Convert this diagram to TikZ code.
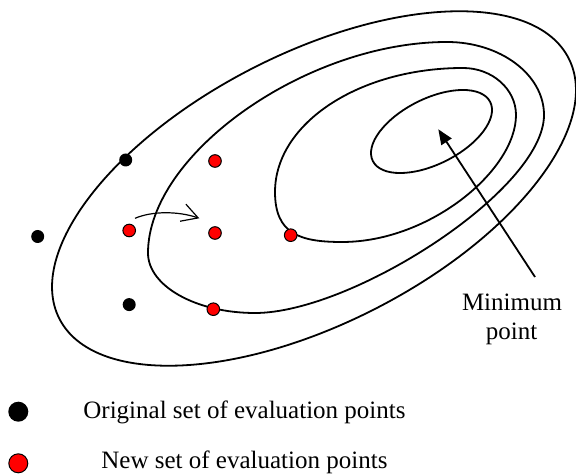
\documentclass[tikz,border=0pt]{standalone}
\usepackage{fontspec}
\setmainfont{Liberation Serif}
\usetikzlibrary{arrows.meta}
\begin{document}
\begin{tikzpicture}[x=0.5pt,y=-0.5pt,
  contour/.style={line width=0.9pt},
  olddot/.style={circle,fill=black,inner sep=0pt,minimum size=6.5pt},
  newdot/.style={circle,fill=red,draw=black,line width=0.5pt,inner sep=0pt,minimum size=6.3pt},
  lbl/.style={font=\fontsize{12.5}{14.5}\selectfont,inner sep=0pt}]
\useasboundingbox (0,0) rectangle (576,474);

% outer contour
\draw[contour,rotate around={27.1:(314,188.5)}] (314,188.5) ellipse [x radius=143pt, y radius=67.5pt];
% second contour
\draw[contour] (447,42) .. controls (500.5,42) and (544,74.7) .. (544,115)
  .. controls (544,190) and (352,313) .. (255,313)
  .. controls (196,313) and (148,286) .. (148,253)
  .. controls (148,153.8) and (306.5,42) .. (447,42) -- cycle;
% third contour
\draw[contour] (463,68) .. controls (492,68) and (516,89) .. (516,115)
  .. controls (516,170) and (430,242) .. (342,242)
  .. controls (300,242) and (275,234) .. (275,192)
  .. controls (275,123.5) and (359,68) .. (463,68) -- cycle;
% inner contour
\draw[contour,rotate around={26.7:(431.5,131.5)}] (431.5,131.5) ellipse [x radius=32.85pt, y radius=16.35pt];

% original points
\node[olddot] (o1) at (125.7,160) {};
\node[olddot] (o2) at (37.7,236.5) {};
\node[olddot] (o3) at (129.2,304.6) {};
% new points
\node[newdot] (n1) at (215,161) {};
\node[newdot] (n2) at (129.2,230.5) {};
\node[newdot] (n3) at (215,233) {};
\node[newdot] (n4) at (290.7,235.2) {};
\node[newdot] (n5) at (213.3,309.2) {};

% move arrow
\coordinate (mvs) at (135,218.3);
\coordinate (mve) at (199.3,218.3);
\draw[line width=0.6pt,-{Straight Barb[length=8pt,width=9pt]}] (mvs) .. controls (152,211) and (178,211) .. (mve);

% minimum label and arrow
\node[lbl,anchor=base] (min1) at (512,310.7) {Minimum};
\node[lbl,anchor=base] (min2) at (511.5,339.7) {point};
\coordinate (mstart) at (535,277);
\coordinate (mtip) at (438.3,129.3);
\draw[line width=0.9pt,-{Triangle[length=7.5pt,width=6pt]}] (mstart) -- (mtip);

% legend
\node[circle,fill=black,inner sep=0pt,minimum size=10pt] (lg1) at (18.3,411.7) {};
\node[circle,fill=red,draw=black,line width=0.5pt,inner sep=0pt,minimum size=9.5pt] (lg2) at (18.3,463.3) {};
\node[lbl,anchor=base west] (t1) at (83,418) {Original set of evaluation points};
\node[lbl,anchor=base west] (t2) at (101,468) {New set of evaluation points};
\end{tikzpicture}
\end{document}
